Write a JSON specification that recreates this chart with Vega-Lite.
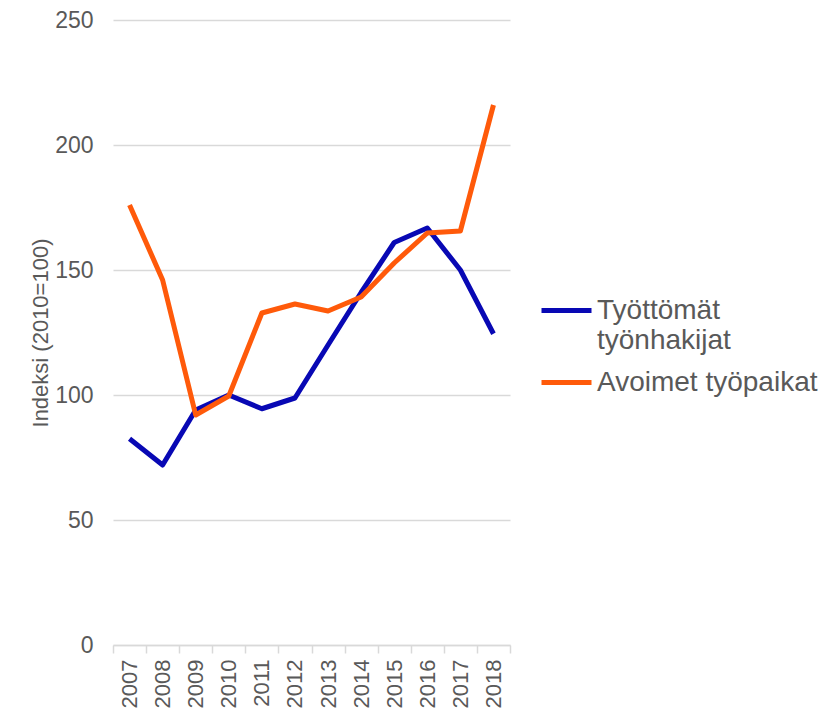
{
  "$schema": "https://vega.github.io/schema/vega-lite/v6.json",
  "width": 397,
  "height": 625,
  "autosize": "none",
  "padding": {"left": 113, "top": 20, "right": 320, "bottom": 68},
  "background": "white",
  "config": {"view": {"stroke": null}, "font": "Liberation Sans"},
  "data": {"values": [
    {"year": "2007", "series": "Työttömät työnhakijat", "value": 82.5},
    {"year": "2008", "series": "Työttömät työnhakijat", "value": 72},
    {"year": "2009", "series": "Työttömät työnhakijat", "value": 94},
    {"year": "2010", "series": "Työttömät työnhakijat", "value": 100},
    {"year": "2011", "series": "Työttömät työnhakijat", "value": 94.5},
    {"year": "2012", "series": "Työttömät työnhakijat", "value": 98.8},
    {"year": "2013", "series": "Työttömät työnhakijat", "value": 120},
    {"year": "2014", "series": "Työttömät työnhakijat", "value": 141},
    {"year": "2015", "series": "Työttömät työnhakijat", "value": 161},
    {"year": "2016", "series": "Työttömät työnhakijat", "value": 166.8},
    {"year": "2017", "series": "Työttömät työnhakijat", "value": 150},
    {"year": "2018", "series": "Työttömät työnhakijat", "value": 124.5},
    {"year": "2007", "series": "Avoimet työpaikat", "value": 176},
    {"year": "2008", "series": "Avoimet työpaikat", "value": 146},
    {"year": "2009", "series": "Avoimet työpaikat", "value": 92},
    {"year": "2010", "series": "Avoimet työpaikat", "value": 99.6},
    {"year": "2011", "series": "Avoimet työpaikat", "value": 132.8},
    {"year": "2012", "series": "Avoimet työpaikat", "value": 136.4},
    {"year": "2013", "series": "Avoimet työpaikat", "value": 133.6},
    {"year": "2014", "series": "Avoimet työpaikat", "value": 139.2},
    {"year": "2015", "series": "Avoimet työpaikat", "value": 152.8},
    {"year": "2016", "series": "Avoimet työpaikat", "value": 164.8},
    {"year": "2017", "series": "Avoimet työpaikat", "value": 165.6},
    {"year": "2018", "series": "Avoimet työpaikat", "value": 216}
  ]},
  "mark": {"type": "line", "strokeWidth": 5, "strokeCap": "butt", "strokeJoin": "round"},
  "encoding": {
    "x": {
      "field": "year", "type": "ordinal",
      "scale": {"type": "band", "paddingInner": 0, "paddingOuter": 0},
      "axis": {
        "title": null, "labelAngle": -90, "labelFontSize": 22, "labelColor": "#595959",
        "domainColor": "#d9d9d9", "domainWidth": 1.5, "tickColor": "#d9d9d9", "tickWidth": 1.5,
        "tickBand": "extent", "tickSize": 8, "labelPadding": 6, "grid": false
      }
    },
    "y": {
      "field": "value", "type": "quantitative",
      "scale": {"domain": [0, 250]},
      "axis": {
        "title": "Indeksi (2010=100)", "titleFontSize": 22, "titleFontWeight": "normal",
        "titleColor": "#595959", "titlePadding": 2,
        "values": [0, 50, 100, 150, 200, 250],
        "labelFontSize": 23, "labelColor": "#595959", "labelPadding": 20,
        "ticks": false, "domain": false, "gridColor": "#d9d9d9", "gridWidth": 1.5
      }
    },
    "color": {
      "field": "series", "type": "nominal",
      "scale": {"domain": ["Työttömät työnhakijat", "Avoimet työpaikat"], "range": ["#0808b4", "#ff5a0a"]},
      "legend": {
        "title": null, "orient": "none", "legendX": 426, "legendY": 263,
        "symbolType": "stroke", "symbolSize": 2500, "symbolStrokeWidth": 5,
        "labelFontSize": 28, "labelColor": "#595959", "labelLimit": 400,
        "labelExpr": "datum.label == 'Työttömät työnhakijat' ? ['Työttömät', 'työnhakijat'] : datum.label",
        "rowPadding": 0, "labelOffset": 3
      }
    }
  }
}
